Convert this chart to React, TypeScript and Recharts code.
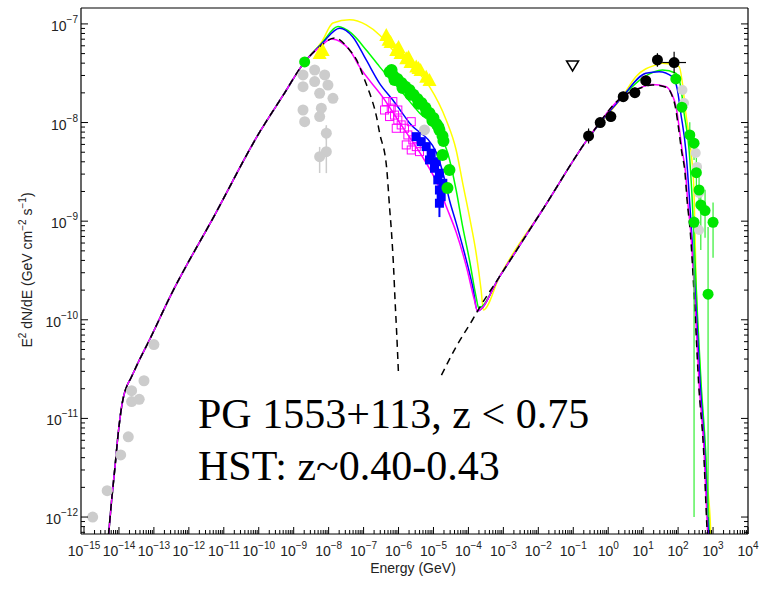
import { ComposedChart, Line, Scatter, XAxis, YAxis, ErrorBar } from 'recharts';

// axis ranges (Energy in GeV, E^2 dN/dE in GeV cm^-2 s^-1)
const E_MIN = 8.2e-16;
const E_MAX = 1e4;
const F_MIN = 6.73e-13;
const F_MAX = 1.45e-7;

const X_EXPONENTS = [-15, -14, -13, -12, -11, -10, -9, -8, -7, -6, -5, -4, -3, -2, -1, 0, 1, 2, 3, 4];
const Y_EXPONENTS = [-13, -12, -11, -10, -9, -8, -7];
const MINOR_STEPS = [2, 3, 4, 5, 6, 7, 8, 9];

// --- model curves ---
// synchrotron rising branch, shared by all models
const syncRiseE = [4.7e-15, 6.18e-15, 7.69e-15, 9.55e-15, 1.19e-14, 1.39e-14, 1.69e-14, 2.2e-14, 3.49e-14, 7.69e-14, 2.86e-13, 5.53e-12, 1.07e-10, 4.85e-10, 2.06e-9];
const syncRiseF = [5e-13, 1.49e-12, 3.21e-12, 7.11e-12, 1.31e-11, 1.73e-11, 2.13e-11, 2.57e-11, 3.65e-11, 6.38e-11, 1.7e-10, 1.16e-9, 8.03e-9, 1.86e-8, 4.12e-8];

// inverse Compton rising branch, shared
const icRiseE = [7.69e-4, 1.48e-2, 0.286, 2.51];
const icRiseF = [2.72e-10, 1.39e-9, 7.15e-9, 1.82e-8];

const magentaSyncE = [5.53e-9, 1.22e-8, 3.98e-8, 7.69e-8, 3.49e-7, 1.3e-6, 4.85e-6, 1.22e-5, 2.35e-5, 4.54e-5, 8.77e-5, 1.48e-4, 1.81e-4];
const magentaSyncF = [5.84e-8, 7.05e-8, 5.44e-8, 3.66e-8, 1.82e-8, 9.02e-9, 4.48e-9, 2.5e-9, 1.39e-9, 7.59e-10, 3.44e-10, 1.59e-10, 1.23e-10];
const magentaIcE = [7.69, 18.1, 45.4, 67.4, 87.7, 107, 130, 164, 187, 231, 320, 398, 553, 687, 769];
const magentaIcF = [2.23e-8, 2.43e-8, 2.31e-8, 1.91e-8, 1.44e-8, 9.02e-9, 5.27e-9, 3.08e-9, 1.64e-9, 7.59e-10, 1.07e-10, 2.29e-11, 4.79e-12, 7.93e-13, 3.66e-13];

const blueSyncE = [6.31e-9, 2.06e-8, 4.85e-8, 1.19e-7, 2.86e-7, 6.87e-7, 2.06e-6, 1.22e-5, 1.93e-5, 2.86e-5, 4.45e-5, 7.69e-5, 1.33e-4, 1.81e-4];
const blueSyncF = [6.27e-8, 9.04e-8, 7.43e-8, 4.31e-8, 2.5e-8, 1.69e-8, 9.9e-9, 4.92e-9, 2.94e-9, 1.64e-9, 9.6e-10, 4.75e-10, 2.15e-10, 1.23e-10];
const blueIcE = [11.9, 28.7, 68.7, 95.5, 119, 166, 206, 251, 338, 425, 571, 719, 820];
const blueIcF = [3.16e-8, 3.28e-8, 2.92e-8, 2.14e-8, 1.25e-8, 5.27e-9, 1.93e-9, 6.46e-10, 1.07e-10, 2.29e-11, 4.79e-12, 7.93e-13, 3.66e-13];

const greenSyncE = [6.31e-9, 1.85e-8, 4.45e-8, 1.19e-7, 2.86e-7, 1.3e-6, 3.98e-6, 1.48e-5, 2.56e-5, 4.45e-5, 6.87e-5, 1.07e-4, 1.66e-4, 1.97e-4];
const greenSyncF = [6.34e-8, 9.39e-8, 8.05e-8, 5.44e-8, 3.69e-8, 2.0e-8, 1.25e-8, 7.85e-9, 4.92e-9, 2.07e-9, 8.73e-10, 4.04e-10, 1.7e-10, 1.32e-10];
const greenIcE = [10.7, 35.6, 85.9, 119, 148, 206, 251, 286, 360, 454, 611, 769, 877];
const greenIcF = [2.9e-8, 3.41e-8, 3.16e-8, 2.31e-8, 1.25e-8, 5.27e-9, 1.76e-9, 6.46e-10, 1.07e-10, 2.29e-11, 4.79e-12, 7.93e-13, 3.66e-13];

const yellowSyncE = [6.31e-9, 1.33e-8, 3.98e-8, 1.19e-7, 2.86e-7, 6.87e-7, 2.56e-6, 7.69e-6, 2.31e-5, 4.45e-5, 6.87e-5, 1.07e-4, 1.66e-4, 2.31e-4, 2.68e-4];
const yellowSyncF = [6.56e-8, 1.02e-7, 1.1e-7, 9.77e-8, 7.73e-8, 5.44e-8, 3.69e-8, 2.31e-8, 1.06e-8, 5.27e-9, 2.42e-9, 1.11e-9, 4.75e-10, 2.0e-10, 1.26e-10];
const yellowIcE = [6.18, 23.1, 35.6, 107, 133, 166, 231, 286, 327, 445, 687, 859, 906];
const yellowIcF = [2.92e-8, 3.84e-8, 3.99e-8, 3.69e-8, 2.5e-8, 1.25e-8, 5.27e-9, 1.93e-9, 2.36e-10, 2.29e-11, 2.21e-12, 6.9e-13, 3.66e-13];

// black dashed: separate synchrotron and SSC components
const dashSyncE = [5.53e-9, 1.48e-8, 3.98e-8, 6.31e-8, 1.07e-7, 1.48e-7, 2.35e-7, 2.87e-7, 4.54e-7, 5.53e-7, 6.31e-7, 7.2e-7, 7.94e-7, 8.77e-7, 1e-6];
const dashSyncF = [5.84e-8, 7.21e-8, 5.44e-8, 4.31e-8, 2.71e-8, 2.0e-8, 1.14e-8, 7.85e-9, 3.55e-9, 1.39e-9, 7.59e-10, 3.44e-10, 1.59e-10, 7.89e-11, 2.75e-11];
const dashIcLowE = [1.69e-5, 4.45e-5, 1.3e-4, 2.06e-4];
const dashIcLowF = [2.75e-11, 5.33e-11, 9.95e-11, 1.32e-10];
const dashIcE = [7.69, 18.1, 45.4, 66, 84, 102, 124, 157, 180, 224, 310, 385, 535, 668, 750];
const dashIcF = [2.21e-8, 2.4e-8, 2.28e-8, 1.9e-8, 1.42e-8, 9.0e-9, 5.3e-9, 3.1e-9, 1.65e-9, 7.6e-10, 1.07e-10, 2.3e-11, 4.8e-12, 7.9e-13, 3.7e-13];

// --- data points ---
const grayLowE = [1.77e-15, 4.6e-15, 1.12e-14, 1.85e-14, 2.3e-14, 2.3e-14, 3.8e-14, 5.2e-14, 1e-13];
const grayLowF = [1.0e-12, 1.85e-12, 4.26e-12, 6.5e-12, 1.91e-11, 1.48e-11, 1.56e-11, 2.41e-11, 5.6e-11];

const grayOptE = [1.85e-9, 3.98e-9, 7.69e-9, 1.85e-9, 3.98e-9, 9.55e-9, 5.53e-9, 1.33e-8, 1.85e-9, 6.18e-9, 2.06e-9, 5.53e-9, 8.59e-9, 8.59e-9, 5.53e-9, 5.53e-6];
const grayOptF = [3.04e-8, 3.41e-8, 3.04e-8, 2.31e-8, 2.6e-8, 2.4e-8, 1.98e-8, 1.76e-8, 1.34e-8, 1.4e-8, 1.02e-8, 1.15e-8, 7.8e-9, 5.07e-9, 4.51e-9, 8.41e-9];
const grayOptErrLo = [0, 0, 0, 0, 0, 0, 0, 0, 0, 0, 0, 0, 1.1e-9, 2.0e-9, 1.43e-9, 0];
const grayOptErrHi = [0, 0, 0, 0, 0, 0, 0, 0, 0, 0, 0, 0, 1.6e-9, 4.0e-9, 1.15e-9, 0];

const grayVheE = [133, 148, 320, 349, 398, 398];
const grayVheF = [2.14e-8, 1.58e-8, 4.92e-9, 3.55e-9, 1.93e-9, 8.15e-10];

const greenOptE = [2.06e-9];
const greenOptF = [4.12e-8];

const greenXrayE = [5.53e-7, 6.31e-7, 7.2e-7, 7.69e-7, 9.35e-7, 1.22e-6, 1.3e-6, 1.58e-6, 2.06e-6, 2.2e-6, 2.69e-6, 3.49e-6, 3.72e-6, 4.54e-6, 5.9e-6, 6.31e-6, 7.69e-6, 9.35e-6, 1e-5, 1.22e-5, 1.39e-5, 1.48e-5, 1.81e-5, 1.93e-5, 1.81e-5, 2.86e-5, 2.51e-5];
const greenXrayF = [3.26e-8, 3.41e-8, 2.97e-8, 2.7e-8, 2.77e-8, 2.52e-8, 2.24e-8, 2.3e-8, 2.14e-8, 1.91e-8, 1.91e-8, 1.73e-8, 1.55e-8, 1.58e-8, 1.41e-8, 1.28e-8, 1.25e-8, 1.04e-8, 1.11e-8, 9.68e-9, 9.02e-9, 8.41e-9, 7.31e-9, 6.5e-9, 4.69e-9, 3.3e-9, 2.17e-9];

const yellowTriE = [6.75e-9, 5.53e-9, 4.46e-7, 5.18e-7, 5.9e-7, 8.59e-7, 1e-6, 1.14e-6, 1.66e-6, 1.93e-6, 2.2e-6, 3.21e-6, 3.72e-6, 4.26e-6, 6.18e-6, 7.69e-6];
const yellowTriF = [5.44e-8, 5.08e-8, 7.73e-8, 6.89e-8, 6.56e-8, 5.44e-8, 5.84e-8, 5.08e-8, 4.49e-8, 4.62e-8, 4.12e-8, 3.69e-8, 3.58e-8, 3.41e-8, 2.92e-8, 2.7e-8];

const magentaSqE = [4.46e-7, 6.18e-7, 3.98e-7, 7.69e-7, 5.53e-7, 9.55e-7, 1.19e-6, 8.59e-7, 1.48e-6, 2.31e-6, 1.85e-6, 2.56e-6, 1.66e-6, 3.21e-6, 2.31e-6, 3.98e-6, 9.55e-7, 6.87e-7];
const magentaSqF = [1.63e-8, 1.4e-8, 1.34e-8, 1.19e-8, 1.15e-8, 1.06e-8, 9.46e-9, 8.75e-9, 8.75e-9, 1.02e-8, 7.48e-9, 6.67e-9, 5.93e-9, 5.7e-9, 5.27e-9, 5.07e-9, 1.34e-8, 1.63e-8];

const blueSqE = [3.21e-6, 4.45e-6, 6.18e-6, 8.59e-6, 7.69e-6, 1.19e-5, 1.07e-5, 1.48e-5, 1.33e-5, 1.85e-5, 1.48e-5, 1.66e-5, 1.48e-5];
const blueSqF = [7.19e-9, 6.4e-9, 5.7e-9, 4.89e-9, 4.18e-9, 4.01e-9, 3.44e-9, 3.06e-9, 2.62e-9, 2.42e-9, 2.07e-9, 1.77e-9, 1.52e-9];
const blueSqErrLo = [0, 0, 0, 0, 0, 0, 0, 0, 0, 0, 0, 0, 4.2e-10];
const blueSqErrHi = [0, 0, 0, 0, 0, 0, 0, 0, 0, 0, 0, 0, 3.0e-10];

const latE = [0.274, 0.59, 1.19, 2.69, 5.8, 11.9, 25.6, 76.9];
const latF = [7.31e-9, 1.0e-8, 1.15e-8, 1.83e-8, 2.01e-8, 2.66e-8, 4.31e-8, 4.06e-8];
const latErrLo = [1.18e-9, 1.1e-9, 1.3e-9, 2.0e-9, 2.2e-9, 2.9e-9, 6.3e-9, 9.0e-9];
const latErrHi = [1.4e-9, 1.2e-9, 1.4e-9, 2.2e-9, 2.5e-9, 3.3e-9, 7.4e-9, 1.17e-8];
const latEErrLo = [0, 0, 0, 0, 0, 0, 4.5, 41.8];
const latEErrHi = [0, 0, 0, 0, 0, 0, 6.0, 91.5];

const upperLimitE = [0.0955];
const upperLimitF = [3.75e-8];

const greenVheE = [85.9, 128, 216, 286, 333, 398, 446, 590, 286, 1000, 720];
const greenVheF = [2.77e-8, 1.43e-8, 7.48e-9, 6.17e-9, 3.1e-9, 2.07e-9, 1.46e-9, 1.28e-9, 9.75e-10, 9.75e-10, 1.82e-10];
const greenVheErrLo = [2.5e-9, 1.5e-9, 2.2e-9, 2.0e-9, 1.0e-9, 8e-10, 9.5e-10, 6e-10, 9.74e-10, 5.5e-10, 1.81e-10];
const greenVheErrHi = [2.7e-9, 1.7e-9, 2.6e-9, 1.7e-9, 1.3e-9, 1.0e-9, 8e-10, 8e-10, 1.5e-10, 5.7e-10, 6.9e-10];

const FONT = '"Liberation Sans", Arial, Helvetica, sans-serif';
const SERIF = '"Liberation Serif", "Times New Roman", Times, serif';

const rows = (es: number[], fs: number[], lo?: number[], hi?: number[], elo?: number[], ehi?: number[]) =>
  es.map((e, i) => ({
    e,
    f: fs[i],
    ey: lo && hi ? [lo[i], hi[i]] : [0, 0],
    ex: elo && ehi ? [elo[i], ehi[i]] : [0, 0],
  }));

function logTicks(exps: number[], lo: number, hi: number) {
  const out: number[] = [];
  exps.forEach((k) => {
    const base = Math.pow(10, k);
    out.push(base);
    MINOR_STEPS.forEach((m) => out.push(m * base));
  });
  return out.filter((v) => v >= lo && v <= hi);
}

const xTicks = logTicks(X_EXPONENTS, E_MIN, E_MAX);
const yTicks = logTicks(Y_EXPONENTS, F_MIN, F_MAX);

const isMajor = (v: number) => Math.abs(Math.log10(v) - Math.round(Math.log10(v))) < 1e-6;
const expLabel = (v: number) => {
  const k = Math.round(Math.log10(v));
  return k < 0 ? '\u2212' + Math.abs(k) : String(k);
};

const BottomTick = ({ x, y, payload }: any) => {
  const major = isMajor(payload.value);
  return (
    <g>
      <line x1={x} x2={x} y1={y} y2={y - (major ? 7 : 4)} stroke="#000" />
      {major && (
        <text x={x} y={y + 22} textAnchor="middle" fontSize={14} fill="#222" fontFamily={FONT}>
          10<tspan dy={-7} fontSize={10}>{expLabel(payload.value)}</tspan>
        </text>
      )}
    </g>
  );
};

const TopTick = ({ x, y, payload }: any) => (
  <line x1={x} x2={x} y1={y} y2={y + (isMajor(payload.value) ? 7 : 4)} stroke="#000" />
);

const LeftTick = ({ x, y, payload }: any) => {
  const major = isMajor(payload.value);
  return (
    <g>
      <line x1={x} x2={x + (major ? 7 : 4)} y1={y} y2={y} stroke="#000" />
      {major && (
        <text x={x - 3} y={y + 7} textAnchor="end" fontSize={14} fill="#222" fontFamily={FONT}>
          10<tspan dy={-8} fontSize={10}>{expLabel(payload.value)}</tspan>
        </text>
      )}
    </g>
  );
};

const RightTick = ({ x, y, payload }: any) => (
  <line x1={x} x2={x - (isMajor(payload.value) ? 7 : 4)} y1={y} y2={y} stroke="#000" />
);

const dot = (r: number, fill: string) => (p: any) => <circle cx={p.cx} cy={p.cy} r={r} fill={fill} />;
const triUp = (p: any) => (
  <polygon points={`${p.cx},${p.cy - 7} ${p.cx - 7},${p.cy + 6} ${p.cx + 7},${p.cy + 6}`} fill="#ffff00" />
);
const triDownOpen = (p: any) => (
  <polygon points={`${p.cx - 6},${p.cy - 5} ${p.cx + 6},${p.cy - 5} ${p.cx},${p.cy + 5}`} fill="#fff" stroke="#000" strokeWidth={1.5} />
);
const squareOpen = (p: any) => <rect x={p.cx - 4} y={p.cy - 4} width={8} height={8} fill="none" stroke="#ff00ff" strokeWidth={1} />;
const squareFilled = (p: any) => <rect x={p.cx - 4.5} y={p.cy - 4.5} width={9} height={9} fill="#0000ff" />;

export default function App() {
  const yellowCurve = rows([...syncRiseE, ...yellowSyncE, ...icRiseE, ...yellowIcE], [...syncRiseF, ...yellowSyncF, ...icRiseF, ...yellowIcF]);
  const greenCurve = rows([...syncRiseE, ...greenSyncE, ...icRiseE, ...greenIcE], [...syncRiseF, ...greenSyncF, ...icRiseF, ...greenIcF]);
  const blueCurve = rows([...syncRiseE, ...blueSyncE, ...icRiseE, ...blueIcE], [...syncRiseF, ...blueSyncF, ...icRiseF, ...blueIcF]);
  const magentaCurve = rows([...syncRiseE, ...magentaSyncE, ...icRiseE, ...magentaIcE], [...syncRiseF, ...magentaSyncF, ...icRiseF, ...magentaIcF]);
  const dashSync = rows([...syncRiseE, ...dashSyncE], [...syncRiseF, ...dashSyncF]);
  const dashIc = rows([...dashIcLowE, ...icRiseE, ...dashIcE], [...dashIcLowF, ...icRiseF, ...dashIcF]);

  const lineProps = { type: 'monotone' as const, dataKey: 'f', dot: false, isAnimationActive: false, strokeWidth: 1.5 };

  return (
    <div style={{ position: 'absolute', left: 0, top: 0, width: 762, height: 589, background: '#fff' }}>
      <ComposedChart width={762} height={589} margin={{ top: 7, right: 13, bottom: 35, left: 41 }}>
        <XAxis dataKey="e" type="number" scale="log" domain={[E_MIN, E_MAX]} allowDataOverflow ticks={xTicks}
          interval={0} tickSize={0} tickMargin={0} tick={<BottomTick />} height={20} axisLine={{ stroke: '#000', strokeWidth: 1.2 }} />
        <XAxis xAxisId="top" orientation="top" type="number" scale="log" domain={[E_MIN, E_MAX]} allowDataOverflow ticks={xTicks}
          interval={0} tickSize={0} tickMargin={0} tick={<TopTick />} height={1} axisLine={{ stroke: '#000', strokeWidth: 1.2 }} />
        <YAxis dataKey="f" type="number" scale="log" domain={[F_MIN, F_MAX]} allowDataOverflow ticks={yTicks}
          interval={0} tickSize={0} tickMargin={0} tick={<LeftTick />} width={40} axisLine={{ stroke: '#000', strokeWidth: 1.2 }} />
        <YAxis yAxisId="right" orientation="right" type="number" scale="log" domain={[F_MIN, F_MAX]} allowDataOverflow ticks={yTicks}
          interval={0} tickSize={0} tickMargin={0} tick={<RightTick />} width={1} axisLine={{ stroke: '#000', strokeWidth: 1.2 }} />

        <Scatter data={rows(grayLowE, grayLowF)} shape={dot(5.5, '#cccccc')} isAnimationActive={false} />
        <Scatter data={rows(grayOptE, grayOptF, grayOptErrLo, grayOptErrHi)} shape={dot(5.5, '#cccccc')} isAnimationActive={false}>
          <ErrorBar dataKey="ey" direction="y" width={0} stroke="#cccccc" strokeWidth={1.5} />
        </Scatter>
        <Scatter data={rows(grayVheE, grayVheF)} shape={dot(5, '#d4d4d4')} isAnimationActive={false} />

        <Line data={yellowCurve} stroke="#ffff00" {...lineProps} />
        <Line data={greenCurve} stroke="#00ff00" {...lineProps} />
        <Line data={blueCurve} stroke="#0000ff" {...lineProps} />
        <Line data={magentaCurve} stroke="#ff00ff" {...lineProps} />
        <Line data={dashSync} stroke="#000" strokeDasharray="7 5" {...lineProps} />
        <Line data={dashIc} stroke="#000" strokeDasharray="7 5" {...lineProps} />

        <Scatter data={rows(yellowTriE, yellowTriF)} shape={triUp} isAnimationActive={false} />
        <Scatter data={rows(magentaSqE, magentaSqF)} shape={squareOpen} isAnimationActive={false} />
        <Scatter data={rows(blueSqE, blueSqF, blueSqErrLo, blueSqErrHi)} shape={squareFilled} isAnimationActive={false}>
          <ErrorBar dataKey="ey" direction="y" width={0} stroke="#0000ff" strokeWidth={2} />
        </Scatter>
        <Scatter data={rows(greenOptE, greenOptF)} shape={dot(5.5, '#00e600')} isAnimationActive={false} />
        <Scatter data={rows(greenXrayE, greenXrayF)} shape={dot(6, '#00e600')} isAnimationActive={false} />
        <Scatter data={rows(greenVheE, greenVheF, greenVheErrLo, greenVheErrHi)} shape={dot(5.5, '#00e600')} isAnimationActive={false}>
          <ErrorBar dataKey="ey" direction="y" width={0} stroke="#33ee33" strokeWidth={1.2} />
        </Scatter>
        <Scatter data={rows(latE, latF, latErrLo, latErrHi, latEErrLo, latEErrHi)} shape={dot(5.5, '#000')} isAnimationActive={false}>
          <ErrorBar dataKey="ey" direction="y" width={0} stroke="#000" strokeWidth={1.2} />
          <ErrorBar dataKey="ex" direction="x" width={0} stroke="#000" strokeWidth={1.2} />
        </Scatter>
        <Scatter data={rows(upperLimitE, upperLimitF)} shape={triDownOpen} isAnimationActive={false} />
      </ComposedChart>

      <svg width={762} height={589} style={{ position: 'absolute', left: 0, top: 0, pointerEvents: 'none' }}>
        <text x={413} y={573} textAnchor="middle" fontSize={14} fill="#222" fontFamily={FONT}>Energy (GeV)</text>
        <text x={32} y={270} transform="rotate(-90, 32, 270)" textAnchor="middle" fontSize={14} fill="#222" fontFamily={FONT}>
          E<tspan dy={-6} fontSize={10}>2</tspan>
          <tspan dy={6}> dN/dE (GeV cm</tspan>
          <tspan dy={-6} fontSize={10}>{'\u22122'}</tspan>
          <tspan dy={6}> s</tspan>
          <tspan dy={-6} fontSize={10}>{'\u22121'}</tspan>
          <tspan dy={6}>)</tspan>
        </text>
        <text x={198} y={428} fontSize={42} fill="#000" fontFamily={SERIF}>PG 1553+113, z &lt; 0.75</text>
        <text x={198} y={480} fontSize={42} fill="#000" fontFamily={SERIF}>HST: z~0.40-0.43</text>
      </svg>
    </div>
  );
}
